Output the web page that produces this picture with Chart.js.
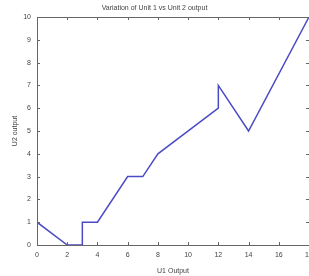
<!DOCTYPE html>
<html><head><meta charset="utf-8">
<script src="https://cdn.jsdelivr.net/npm/chart.js@4/dist/chart.umd.min.js"></script>
<style>html,body{margin:0;padding:0;background:#fff;overflow:hidden;width:309px;height:276px}canvas{display:block}</style>
</head><body>
<canvas id="c" width="330" height="276" style="width:330px;height:276px"></canvas>
<script>
const titleText = 'Variation of Unit 1 vs Unit 2 output';
const xLabel = 'U1 Output';
const yLabel = 'U2 output';
const u1Output = [0, 2, 3, 3, 4, 6, 7, 8, 12, 12, 14, 18];
const u2Output = [1, 0, 0, 1, 1, 3, 3, 4, 6, 7, 5, 10];
const xTicks = [0, 2, 4, 6, 8, 10, 12, 14, 16, 18];
const yTicks = [0, 1, 2, 3, 4, 5, 6, 7, 8, 9, 10];

const points = u1Output.map((x, i) => ({x: x, y: u2Output[i]}));

const boxPlugin = {
  id: 'box',
  afterDraw(chart) {
    const ctx = chart.ctx, a = chart.chartArea;
    const xs = chart.scales.x, ys = chart.scales.y;
    ctx.save();
    ctx.strokeStyle = '#666';
    ctx.lineWidth = 1;
    ctx.strokeRect(Math.round(a.left) + 0.5, Math.round(a.top) + 0.5, a.right - a.left, a.bottom - a.top);
    ctx.beginPath();
    const tl = 3;
    xTicks.forEach(v => {
      const px = Math.round(xs.getPixelForValue(v)) + 0.5;
      ctx.moveTo(px, a.bottom); ctx.lineTo(px, a.bottom - tl);
      ctx.moveTo(px, a.top); ctx.lineTo(px, a.top + tl);
    });
    yTicks.forEach(v => {
      const py = Math.round(ys.getPixelForValue(v)) + 0.5;
      ctx.moveTo(a.left, py); ctx.lineTo(a.left + tl, py);
      ctx.moveTo(a.right, py); ctx.lineTo(a.right - tl, py);
    });
    ctx.stroke();
    ctx.restore();
  }
};

new Chart(document.getElementById('c'), {
  type: 'line',
  data: {
    datasets: [{
      data: points,
      borderColor: '#4b4bc6',
      borderWidth: 1.5,
      pointRadius: 0,
      tension: 0,
      fill: false
    }]
  },
  options: {
    responsive: false,
    animation: false,
    devicePixelRatio: 1,
    layout: {padding: {top: 0, right: 21, left: 0, bottom: 0}},
    plugins: {
      legend: {display: false},
      tooltip: {enabled: false},
      title: {
        display: true,
        text: titleText,
        color: '#444',
        font: {family: 'Arial, Liberation Sans, sans-serif', size: 7, weight: 'normal'},
        padding: {top: 4, bottom: 4.6}
      }
    },
    scales: {
      x: {
        type: 'linear', min: 0, max: 18,
        afterBuildTicks(s) { s.ticks = xTicks.map(v => ({value: v})); },
        afterFit(s) { s.height = 31; },
        grid: {display: false},
        border: {display: false},
        ticks: {color: '#444', font: {family: 'Arial, Liberation Sans, sans-serif', size: 7}, padding: -2, maxRotation: 0, autoSkip: false},
        title: {display: true, text: xLabel, color: '#444', font: {family: 'Arial, Liberation Sans, sans-serif', size: 7}, padding: {top: 0, bottom: 1}}
      },
      y: {
        type: 'linear', min: 0, max: 10,
        afterBuildTicks(s) { s.ticks = yTicks.map(v => ({value: v})); },
        afterFit(s) { s.width = 37; },
        grid: {display: false},
        border: {display: false},
        ticks: {color: '#444', font: {family: 'Arial, Liberation Sans, sans-serif', size: 7}, padding: -2, autoSkip: false},
        title: {display: true, text: yLabel, color: '#444', font: {family: 'Arial, Liberation Sans, sans-serif', size: 7}, padding: {top: 11, bottom: 0}}
      }
    }
  },
  plugins: [boxPlugin]
});
</script>
</body></html>
